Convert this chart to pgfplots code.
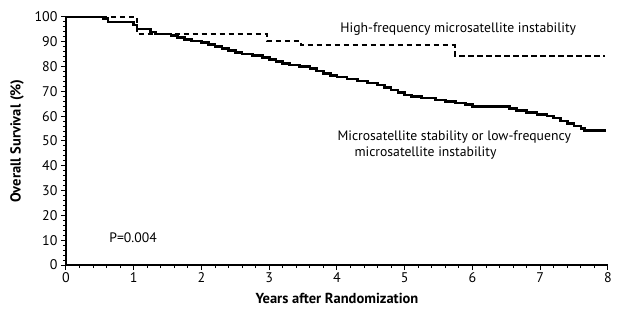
\documentclass[border=0pt]{standalone}
\usepackage{fontspec}
\setmainfont{PT Sans}
\usepackage{pgfplots}
\pgfplotsset{compat=1.18}
\begin{document}
\begin{tikzpicture}
\path[use as bounding box] (-66pt,-56pt) rectangle (555pt,265pt);
\begin{axis}[
  at={(0,0)}, anchor=south west,
  scale only axis, width=542pt, height=248pt,
  xmin=0, xmax=8, ymin=0, ymax=100,
  axis lines*=left,
  axis line style={line width=1.3pt},
  xtick={0,1,...,8}, ytick={0,10,...,100},
  minor x tick num=4, minor y tick num=4,
  tick align=outside,
  major tick length=5pt, minor tick length=3pt,
  tick style={line width=1pt, black},
  /pgf/number format/assume math mode=true,
  ticklabel style={font=\fontsize{14}{16}\selectfont},
  xticklabel style={yshift=1pt},
  xlabel={\bfseries Years after Randomization},
  ylabel={\bfseries Overall Survival (\%)},
  label style={font=\fontsize{14.5}{16}\selectfont},
  xlabel style={yshift=-4pt},
  ylabel style={yshift=4pt},
  clip=false,
]
\addplot[const plot, line width=2.6pt, black] coordinates {
(0,100) (0.55,99.3) (0.62,98.0) (1.0,96.8) (1.05,95.2) (1.25,94.0) (1.32,93.2)
(1.55,92.6) (1.65,91.8) (1.75,91.0) (1.85,90.3) (2.0,89.6) (2.1,88.8) (2.2,88.0)
(2.3,87.2) (2.4,86.4) (2.5,85.6) (2.6,85.0) (2.75,84.4) (2.9,83.6) (3.0,82.8)
(3.1,82.0) (3.2,81.2) (3.3,80.6) (3.45,80.0) (3.6,79.2) (3.7,78.2) (3.8,77.2)
(3.9,76.4) (4.0,75.8) (4.15,75.0) (4.3,74.2) (4.45,73.4) (4.6,72.6) (4.7,71.6)
(4.8,70.6) (4.9,69.6) (5.0,68.6) (5.1,68.0) (5.25,67.4) (5.45,66.6) (5.6,66.0)
(5.75,65.4) (5.9,64.6) (6.0,64.0) (6.55,63.2) (6.65,62.4) (6.8,61.4) (6.95,60.8)
(7.1,60.0) (7.2,59.2) (7.3,58.0) (7.4,57.0) (7.5,56.0) (7.6,55.0) (7.65,54.3)
(7.97,54.3)
};
\addplot[const plot, line width=2pt, black, dash pattern=on 5.5pt off 3.5pt] coordinates {
(0,100) (1.05,93.0) (2.97,90.3) (3.47,88.6) (5.74,84.4) (7.96,84.4)
};
\node[font=\fontsize{13.7}{16}\selectfont] at (axis cs:5.79,95.2) {High-frequency microsatellite instability};
\node[font=\fontsize{13.7}{16}\selectfont, align=left] at (axis cs:5.73,48.2) {Microsatellite stability or low-frequency\\\hspace*{17pt}microsatellite instability};
\node[font=\fontsize{13.7}{16}\selectfont] at (axis cs:0.99,11) {P=0.004};
\end{axis}
\end{tikzpicture}
\end{document}
